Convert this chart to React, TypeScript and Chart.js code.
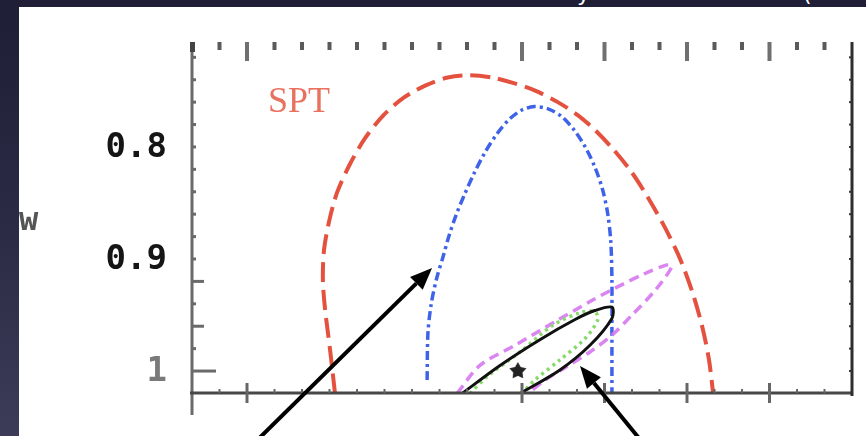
import React, { useEffect, useRef } from 'react';
import { Chart, registerables } from 'chart.js';
Chart.register(...registerables);

// axis ranges (x in arbitrary units, y = w, reversed)
const X_MIN = 0;
const X_MAX = 24;
const Y_TOP = 0.709;
const Y_BOTTOM = 1.0196;

const yLabelValues = [0.8, 0.9, 1];
const yLabelTexts = ['0.8', '0.9', '1'];
const xMajorTicks = [2, 12, 15, 18, 21];

// SPT (red dashed)
const sptX = [5.2, 5.02, 4.84, 4.76, 4.8, 4.99, 5.27, 5.75, 6.3, 6.95, 7.7, 8.5, 9.3, 10.1, 10.9, 11.7, 12.5, 13.3, 14.05, 14.7, 15.35, 16.0, 16.6, 17.2, 17.75, 18.2, 18.55, 18.8, 18.95];
const sptY = [1.02, 0.981, 0.945, 0.919, 0.892, 0.866, 0.841, 0.815, 0.792, 0.772, 0.756, 0.745, 0.738, 0.736, 0.738, 0.743, 0.75, 0.76, 0.772, 0.786, 0.803, 0.823, 0.846, 0.872, 0.9, 0.93, 0.96, 0.99, 1.02];

// blue dash-dot
const blueX = [8.55, 8.58, 8.7, 8.9, 9.13, 9.35, 9.6, 9.9, 10.25, 10.65, 11.1, 11.55, 12.0, 12.45, 12.95, 13.45, 13.9, 14.3, 14.65, 14.93, 15.12, 15.23, 15.27, 15.27, 15.27];
const blueY = [1.008, 0.966, 0.94, 0.917, 0.898, 0.879, 0.861, 0.843, 0.824, 0.805, 0.788, 0.775, 0.767, 0.764, 0.766, 0.773, 0.785, 0.8, 0.818, 0.838, 0.86, 0.885, 0.919, 0.963, 1.02];

// magenta dashed
const magX = [9.64, 10.47, 11.75, 13.2, 14.47, 15.38, 16.47, 17.31, 17.45, 16.84, 16.0, 15.27, 14.47, 13.56, 12.84, 12.22];
const magY = [1.02, 0.995, 0.977, 0.956, 0.938, 0.926, 0.913, 0.905, 0.907, 0.928, 0.95, 0.968, 0.983, 0.997, 1.008, 1.02];

// green dotted
const greenX = [10.11, 10.73, 11.93, 13.13, 14.11, 14.65, 14.76, 14.29, 13.38, 12.47, 12.0];
const greenY = [1.02, 1.005, 0.983, 0.959, 0.948, 0.947, 0.954, 0.971, 0.99, 1.008, 1.02];

// black solid
const blackX = [9.82, 11.2, 12.65, 13.93, 14.65, 15.27, 15.27, 14.47, 13.38, 11.93];
const blackY = [1.02, 0.995, 0.972, 0.954, 0.946, 0.943, 0.953, 0.977, 0.999, 1.02];

// fiducial star
const starX = [11.85];
const starY = [1.0];

// annotation arrows [fromX, fromY, toX, toY]
const arrow1 = [2.4, 1.061, 8.73, 0.908];
const arrow2 = [16.29, 1.061, 14.11, 0.9955];

const sptLabel = { text: 'SPT', x: 2.76, y: 0.76 };

const pts = (xs: number[], ys: number[]) => xs.map((x, i) => ({ x, y: ys[i] }));

function makeStar(size: number) {
  const c = document.createElement('canvas');
  c.width = size;
  c.height = size;
  const g = c.getContext('2d')!;
  g.fillStyle = '#222';
  g.beginPath();
  for (let i = 0; i < 10; i++) {
    const r = i % 2 ? size * 0.27 : size * 0.5;
    const a = -Math.PI / 2 + (i * Math.PI) / 5;
    g.lineTo(size / 2 + r * Math.cos(a), size / 2 + r * Math.sin(a));
  }
  g.closePath();
  g.fill();
  return c;
}

const decorPlugin = {
  id: 'decor',
  afterDraw(chart: any) {
    const { ctx, chartArea: a, scales } = chart;
    const xs = scales.x;
    const ys = scales.y;
    const line = (x1: number, y1: number, x2: number, y2: number) => {
      ctx.beginPath();
      ctx.moveTo(x1, y1);
      ctx.lineTo(x2, y2);
      ctx.stroke();
    };
    ctx.save();
    ctx.lineCap = 'butt';

    // frame lines
    ctx.strokeStyle = '#6a6a6a';
    ctx.lineWidth = 3;
    line(a.left, a.top - 3, a.left, a.bottom + 22);
    ctx.strokeStyle = '#474747';
    line(a.left - 2, a.bottom, a.right, a.bottom);
    ctx.strokeStyle = '#2e2e2e';
    line(a.right, a.top - 3, a.right, a.bottom + 3);

    // top & bottom ticks
    for (let v = X_MIN; v <= X_MAX; v++) {
      const px = xs.getPixelForValue(v);
      const major = xMajorTicks.includes(v);
      ctx.fillStyle = major ? '#707070' : '#5a5a5a';
      if (v > X_MIN && v < X_MAX) {
        ctx.fillRect(px - 2, a.top - 3, 4, major ? 19 : 8);
      }
      ctx.strokeStyle = '#666';
      if (major) {
        ctx.lineWidth = 3;
        line(px, a.bottom - 10, px, a.bottom + 10);
      } else if (v > X_MIN && v < X_MAX) {
        ctx.lineWidth = 2;
        line(px, a.bottom, px, a.bottom - 4);
      }
    }
    ctx.fillStyle = '#444';
    ctx.fillRect(a.left - 2, a.top - 3, 5, 10);

    // left & right ticks
    for (let i = 0; i <= 14; i++) {
      const v = 0.72 + 0.02 * i;
      const py = ys.getPixelForValue(v);
      let len = 4;
      if (Math.abs(v - 1) < 1e-6) len = 24;
      else if (Math.abs(v - 0.92) < 1e-6 || Math.abs(v - 0.96) < 1e-6) len = 12;
      ctx.strokeStyle = '#6a6a6a';
      ctx.lineWidth = 3;
      line(a.left, py, a.left + len, py);
      ctx.strokeStyle = '#333';
      ctx.lineWidth = 2;
      line(a.right, py, a.right - 3, py);
    }

    // y labels
    ctx.font = 'bold 34px "DejaVu Sans Mono"';
    ctx.textAlign = 'right';
    ctx.textBaseline = 'middle';
    yLabelValues.forEach((v, i) => {
      ctx.fillStyle = v === 1 ? '#7a7a7a' : '#151515';
      ctx.fillText(yLabelTexts[i], a.left - 25, ys.getPixelForValue(v) + 1);
    });

    // axis title fragment
    ctx.font = 'bold 32px "DejaVu Sans Mono"';
    ctx.textAlign = 'left';
    ctx.fillStyle = '#555';
    ctx.fillText('w', 0, 215);

    // SPT label
    ctx.font = '36px "Liberation Serif"';
    ctx.fillStyle = '#e9725f';
    ctx.textBaseline = 'middle';
    ctx.fillText(sptLabel.text, xs.getPixelForValue(sptLabel.x), ys.getPixelForValue(sptLabel.y));

    // arrows
    const drawArrow = (ar: number[]) => {
      const x1 = xs.getPixelForValue(ar[0]);
      const y1 = ys.getPixelForValue(ar[1]);
      const x2 = xs.getPixelForValue(ar[2]);
      const y2 = ys.getPixelForValue(ar[3]);
      const ang = Math.atan2(y2 - y1, x2 - x1);
      const hl = 22;
      const hw = 9;
      const bx = x2 - hl * Math.cos(ang);
      const by = y2 - hl * Math.sin(ang);
      ctx.strokeStyle = '#000';
      ctx.lineWidth = 4;
      line(x1, y1, bx, by);
      ctx.fillStyle = '#000';
      ctx.beginPath();
      ctx.moveTo(x2, y2);
      ctx.lineTo(bx + hw * Math.sin(ang), by - hw * Math.cos(ang));
      ctx.lineTo(bx - hw * Math.sin(ang), by + hw * Math.cos(ang));
      ctx.closePath();
      ctx.fill();
    };
    drawArrow(arrow1);
    drawArrow(arrow2);
    ctx.restore();
  },
};

export default function App() {
  const ref = useRef<HTMLCanvasElement>(null);
  useEffect(() => {
    if (!ref.current) return;
    const star = makeStar(18);
    const common = { showLine: true, pointRadius: 0, borderWidth: 3.5, tension: 0.3, fill: false };
    const chart = new Chart(ref.current, {
      type: 'scatter',
      data: {
        datasets: [
          { ...common, data: pts(blackX, blackY), borderColor: '#111', borderWidth: 3 },
          { ...common, data: pts(greenX, greenY), borderColor: '#86d96a', borderDash: [3, 4] },
          { ...common, data: pts(magX, magY), borderColor: 'rgba(214,120,240,0.9)', borderDash: [10, 6] },
          { ...common, data: pts(blueX, blueY), borderColor: '#3f63e8', borderDash: [9, 4, 3, 4] },
          { ...common, data: pts(sptX, sptY), borderColor: '#e4523f', borderWidth: 4, borderDash: [20, 8] },
          {
            data: pts(starX, starY),
            showLine: false,
            pointStyle: star as any,
            pointRadius: 9,
            borderWidth: 0,
            backgroundColor: '#222',
          },
        ],
      },
      options: {
        animation: false,
        responsive: false,
        devicePixelRatio: 1,
        layout: { padding: { left: 173, top: 38, right: 14, bottom: 43 } },
        plugins: { legend: { display: false }, tooltip: { enabled: false } },
        scales: {
          x: { type: 'linear', min: X_MIN, max: X_MAX, display: false },
          y: { type: 'linear', min: Y_TOP, max: Y_BOTTOM, reverse: true, display: false },
        },
      },
      plugins: [decorPlugin],
    });
    return () => chart.destroy();
  }, []);

  return (
    <div
      style={{
        position: 'fixed',
        inset: 0,
        background: 'linear-gradient(180deg, #1e1f36 0%, #2a2a44 50%, #3d3c58 100%)',
        overflow: 'hidden',
      }}
    >
      <div style={{ position: 'absolute', left: 0, top: 0, right: 0, height: 7, overflow: 'hidden' }}>
        <span
          style={{
            position: 'absolute',
            left: 577,
            top: -16,
            color: '#fff',
            fontFamily: '"DejaVu Sans"',
            fontSize: 22,
            lineHeight: '20px',
          }}
        >
          y
        </span>
        <span
          style={{
            position: 'absolute',
            left: 803,
            top: -16,
            color: '#fff',
            fontFamily: '"DejaVu Sans"',
            fontSize: 22,
            lineHeight: '20px',
          }}
        >
          (
        </span>
      </div>
      <div style={{ position: 'absolute', left: 19, top: 7, right: 0, bottom: 0, background: '#fff' }}>
        <canvas ref={ref} width={847} height={429} style={{ display: 'block', width: 847, height: 429 }} />
      </div>
    </div>
  );
}
